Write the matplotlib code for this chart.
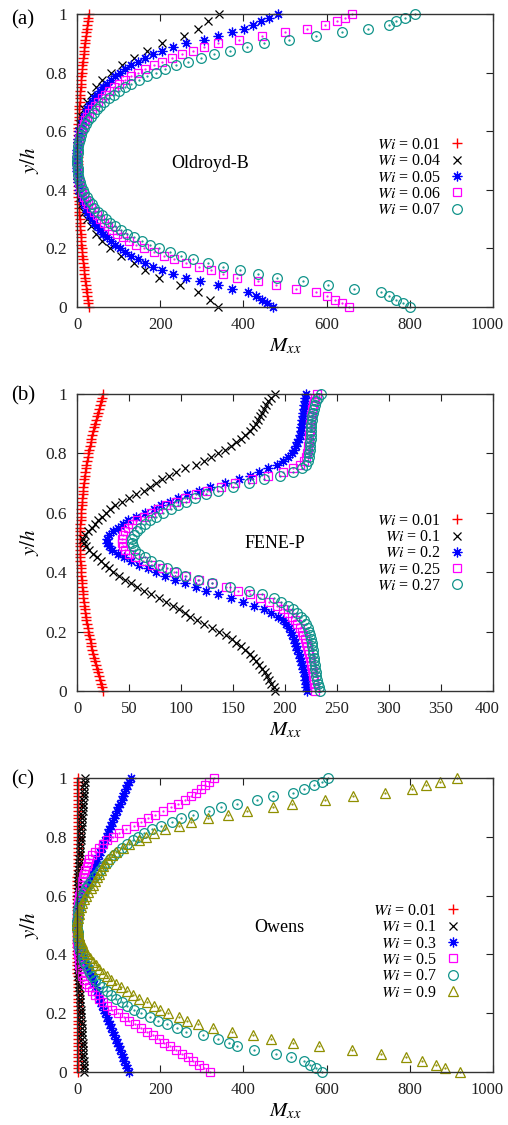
import matplotlib
matplotlib.use("Agg")
import matplotlib.pyplot as plt
from matplotlib.transforms import ScaledTranslation

plt.rcParams['font.family'] = ['Liberation Serif', 'DejaVu Serif']
plt.rcParams['mathtext.fontset'] = 'stix'

# wall-normal positions y/h
y81 = [0, 0.0125, 0.025, 0.0375, 0.05, 0.0625, 0.075, 0.0875, 0.1, 0.1125,
       0.125, 0.1375, 0.15, 0.1625, 0.175, 0.1875, 0.2, 0.2125, 0.225, 0.2375,
       0.25, 0.2625, 0.275, 0.2875, 0.3, 0.3125, 0.325, 0.3375, 0.35, 0.3625,
       0.375, 0.3875, 0.4, 0.4125, 0.425, 0.4375, 0.45, 0.4625, 0.475, 0.4875,
       0.5, 0.5125, 0.525, 0.5375, 0.55, 0.5625, 0.575, 0.5875, 0.6, 0.6125,
       0.625, 0.6375, 0.65, 0.6625, 0.675, 0.6875, 0.7, 0.7125, 0.725, 0.7375,
       0.75, 0.7625, 0.775, 0.7875, 0.8, 0.8125, 0.825, 0.8375, 0.85, 0.8625,
       0.875, 0.8875, 0.9, 0.9125, 0.925, 0.9375, 0.95, 0.9625, 0.975, 0.9875, 1.0]
y41 = [0, 0.025, 0.05, 0.075, 0.1, 0.125, 0.15, 0.175, 0.2, 0.225,
       0.25, 0.275, 0.3, 0.325, 0.35, 0.375, 0.4, 0.425, 0.45, 0.475,
       0.5, 0.525, 0.55, 0.575, 0.6, 0.625, 0.65, 0.675, 0.7, 0.725,
       0.75, 0.775, 0.8, 0.825, 0.85, 0.875, 0.9, 0.925, 0.95, 0.975, 1.0]

# (a) Oldroyd-B
a_labels = ["0.01", "0.04", "0.05", "0.06", "0.07"]
a_wi001 = [28, 26.7, 25.5, 24.2, 23.1, 21.9, 20.8, 19.7, 18.6, 17.6, 16.6, 15.7, 14.7, 13.8,
           13.0, 12.2, 11.4, 10.6, 9.9, 9.2, 8.5, 7.9, 7.3, 6.7, 6.2, 5.7, 5.2, 4.7, 4.3, 4.0,
           3.6, 3.3, 3.0, 2.8, 2.6, 2.4, 2.3, 2.1, 2.1, 2.0, 2.0,
           2.0, 2.1, 2.1, 2.3, 2.4, 2.6, 2.8, 3.0, 3.3, 3.6, 4.0, 4.3, 4.7, 5.2, 5.7, 6.2, 6.7,
           7.3, 7.9, 8.5, 9.2, 9.9, 10.6, 11.4, 12.2, 13.0, 13.8, 14.7, 15.7, 16.6, 17.6, 18.6,
           19.7, 20.8, 21.9, 23.1, 24.2, 25.5, 26.7, 28.5]
a_wi004 = [340, 320, 290, 247, 198, 164, 136, 105, 80, 60, 45, 33, 24, 17, 11, 7, 4, 2, 1, 1, 1,
           1, 1, 2, 4, 7, 11, 17, 24, 34, 46, 61, 82, 107, 138, 168, 205, 258, 290, 316, 342]
a_wi005 = [470, 457, 445, 431, 412, 372, 340, 296, 262, 230, 205, 183, 163, 146, 130, 116, 103,
           92, 81, 72, 63, 55, 48, 41, 35, 30, 25, 21, 17, 14, 11, 8, 6, 5, 3, 2, 2, 1, 1, 1, 1,
           1, 1, 1, 2, 2, 3, 5, 6, 8, 11, 14, 17, 21, 25, 30, 35, 41, 48, 55, 63, 72, 81, 92,
           103, 116, 130, 146, 163, 183, 205, 230, 262, 305, 340, 372, 402, 422, 442, 462, 482]
a_wi006 = [655, 637, 620, 601, 575, 527, 478, 435, 385, 350, 322, 294, 262, 234, 208, 184, 162,
           143, 126, 111, 97, 85, 74, 64, 55, 47, 40, 33, 27, 22, 17, 13, 10, 7, 5, 4, 3, 2, 1, 1, 1,
           1, 1, 2, 3, 4, 5, 7, 9, 12, 16, 20, 25, 30, 36, 43, 50, 59, 68, 78, 89, 101, 115, 130,
           146, 164, 184, 205, 228, 252, 278, 305, 340, 390, 444, 500, 552, 597, 625, 645, 662]
a_wi007 = [800, 784, 767, 749, 730, 665, 604, 543, 480, 435, 393, 352, 314, 280, 250, 223, 198,
           176, 156, 138, 121, 106, 92, 80, 69, 59, 50, 42, 35, 29, 23, 18, 14, 10, 7, 5, 3, 2, 2, 1, 1,
           1, 2, 2, 3, 5, 7, 10, 13, 17, 22, 27, 33, 40, 47, 56, 65, 76, 88, 101, 115, 131, 149,
           168, 189, 212, 238, 266, 297, 330, 368, 408, 450, 510, 575, 638, 700, 750, 768, 788, 812]

# (b) FENE-P
b_labels = ["0.01", "0.1", "0.2", "0.25", "0.27"]
b_wi001 = [25, 23.9, 22.9, 21.8, 20.8, 19.8, 18.9, 18.0, 17.1, 16.2, 15.4, 14.6, 13.8, 13.0,
           12.3, 11.6, 10.9, 10.3, 9.7, 9.1, 8.5, 8.0, 7.5, 7.0, 6.5, 6.1, 5.7, 5.3, 5.0, 4.7,
           4.4, 4.1, 3.9, 3.7, 3.5, 3.3, 3.2, 3.1, 3.1, 3.0, 3.0,
           3.0, 3.1, 3.1, 3.2, 3.3, 3.5, 3.7, 3.9, 4.1, 4.4, 4.7, 5.0, 5.3, 5.7, 6.1, 6.5, 7.0,
           7.5, 8.0, 8.5, 9.1, 9.7, 10.3, 10.9, 11.6, 12.3, 13.0, 13.8, 14.6, 15.4, 16.2, 17.1,
           18.0, 18.9, 19.8, 20.8, 21.8, 22.9, 23.9, 25.0]
b_wi01 = [190, 189, 187, 185, 183, 181, 178, 175, 172, 169, 166, 162, 158, 153, 149, 143, 137,
          130, 122, 115, 109, 104, 98, 92, 86, 79, 71, 64, 58, 52, 46, 40, 35, 31, 27, 23, 19, 15,
          12, 9, 7,
          6, 8, 11, 14, 17, 20, 24, 28, 32, 37, 43, 50, 57, 64, 70, 76, 82, 88, 95, 104, 114, 122,
          129, 136, 142, 148, 153, 158, 162, 166, 169, 172, 174, 176, 178, 180, 182, 184, 187, 190]
b_wi02 = [221, 220, 220, 219, 219, 218, 217, 216, 215, 214, 213, 212, 211, 210, 209, 207, 206,
          204, 201, 198, 193, 187, 180, 170, 160, 148, 136, 124, 114, 104, 94, 85, 76, 68, 60, 52,
          45, 39, 34, 31, 29,
          29, 31, 35, 39, 44, 49, 57, 65, 74, 81, 89, 97, 106, 117, 128, 142, 156, 166, 175, 184,
          192, 198, 203, 207, 209, 211, 212, 213, 214, 215, 215, 216, 216, 217, 217, 218, 218,
          219, 219, 220]
b_wi025 = [229, 229, 228, 228, 227, 227, 226, 225, 225, 224, 223, 222, 221, 220, 219, 217, 216,
           214, 212, 210, 207, 203, 198, 192, 185, 176, 166, 155, 143, 130, 117, 105, 93, 82, 72,
           63, 56, 50, 46, 44, 43,
           43, 44, 46, 49, 53, 58, 64, 71, 78, 86, 95, 104, 114, 125, 138, 152, 168, 184, 198, 208,
           214, 218, 220, 221, 222, 222, 223, 223, 223, 224, 224, 224, 225, 225, 226, 226, 227,
           228, 229, 231]
b_wi027 = [234, 233, 232, 231, 230, 230, 229, 229, 228, 228, 227, 227, 226, 226, 225, 224, 223,
           222, 220, 218, 215, 212, 208, 203, 196, 189, 178, 165, 147, 130, 116, 104, 95, 87, 79,
           71, 65, 60, 56, 54, 53,
           53, 55, 58, 61, 65, 70, 76, 83, 90, 97, 105, 113, 124, 136, 150, 165, 180, 195, 208, 216,
           220, 222, 223, 223, 224, 224, 224, 225, 225, 225, 225, 225, 226, 226, 227, 228, 229,
           230, 232, 235]

# (c) Owens
c_labels = ["0.01", "0.1", "0.3", "0.5", "0.7", "0.9"]
c_wi001 = [3.0, 2.9, 2.8, 2.7, 2.6, 2.6, 2.5, 2.4, 2.3, 2.3, 2.2, 2.1, 2.0, 2.0, 1.9, 1.8, 1.8,
           1.7, 1.7, 1.6, 1.5, 1.5, 1.4, 1.4, 1.3, 1.3, 1.3, 1.2, 1.2, 1.2, 1.1, 1.1, 1.1, 1.1,
           1.0, 1.0, 1.0, 1.0, 1.0, 1.0, 1.0,
           1.0, 1.0, 1.0, 1.0, 1.0, 1.0, 1.1, 1.1, 1.1, 1.1, 1.2, 1.2, 1.2, 1.3, 1.3, 1.3, 1.4,
           1.4, 1.5, 1.5, 1.6, 1.7, 1.7, 1.8, 1.8, 1.9, 2.0, 2.0, 2.1, 2.2, 2.3, 2.3, 2.4, 2.5,
           2.6, 2.6, 2.7, 2.8, 2.9, 3.0]
c_wi01 = [17, 16.6, 16.2, 15.8, 15.4, 15, 14.5, 14, 13.5, 13, 12.5, 12, 11.5, 11, 10.5, 10, 9.4,
          8.8, 8.2, 7.6, 7, 6.4, 5.8, 5.2, 4.6, 4.0, 3.5, 3.0, 2.6, 2.2, 1.9, 1.6, 1.4, 1.2, 1.1,
          1, 1, 1, 1, 1, 1,
          1, 1, 1, 1, 1, 1.1, 1.2, 1.4, 1.6, 1.9, 2.2, 2.6, 3.0, 3.5, 4.0, 4.6, 5.2, 5.8, 6.4, 7,
          7.6, 8.2, 8.8, 9.4, 10, 10.6, 11.2, 11.8, 12.4, 13, 13.6, 14.2, 14.8, 15.4, 16, 16.6,
          17.2, 17.8, 18.4, 19]
c_wi03 = [124, 121, 117, 114, 110, 107, 103, 100, 96, 93, 89, 86, 82, 79, 75, 72, 68, 65, 61, 58,
          54, 51, 47, 44, 41, 37, 34, 30, 27, 24, 20, 17, 14, 11, 8, 6, 4, 3, 2, 1, 1,
          1, 2, 3, 4, 6, 8, 11, 14, 17, 21, 24, 28, 31, 35, 38, 42, 45, 49, 53, 56, 60, 63, 67,
          71, 74, 78, 81, 85, 89, 92, 96, 99, 103, 107, 110, 114, 117, 121, 125, 129]
c_wi05 = [320, 306, 293, 280, 266, 252, 238, 224, 210, 196, 182, 168, 154, 140, 126, 112, 98, 85,
          73, 62, 52, 43, 35, 28, 22, 17, 13, 10, 8, 6, 5, 4, 3, 2, 2, 1, 1, 1, 1, 1, 1,
          1, 1, 1, 2, 2, 3, 4, 5, 7, 9, 11, 13, 15, 17, 20, 23, 26, 30, 36, 44, 52, 62, 73, 86,
          101, 117, 136, 153, 170, 188, 206, 226, 243, 259, 273, 286, 297, 308, 318, 330]
c_wi07 = [590, 575, 560, 545, 515, 478, 425, 385, 365, 340, 302, 262, 240, 216, 195, 175, 154,
          137, 121, 107, 94, 82, 71, 61, 52, 44, 37, 31, 26, 21, 17, 14, 11, 8, 6, 4, 3, 2, 2, 1, 1,
          1, 2, 2, 3, 5, 7, 10, 13, 17, 22, 27, 33, 40, 48, 56, 63, 71, 79, 88, 98, 109, 121, 134,
          146, 160, 180, 203, 228, 250, 280, 318, 345, 384, 432, 470, 520, 545, 570, 590, 604]
c_wi09 = [920, 885, 862, 830, 790, 730, 660, 582, 520, 466, 422, 372, 328, 290, 264, 244, 218,
          200, 184, 168, 150, 135, 120, 106, 94, 82, 72, 62, 53, 45, 38, 31, 25, 20, 15, 11, 8, 5,
          3, 2, 1,
          1, 2, 4, 6, 9, 13, 17, 22, 27, 33, 39, 43, 47, 52, 57, 62, 68, 75, 83, 94, 110, 124, 148,
          166, 186, 212, 246, 274, 314, 364, 408, 470, 516, 597, 664, 740, 805, 838, 872, 913]

STYLES = [
    dict(marker='+', color='#ff0000', ms=6.5, mew=1.0),
    dict(marker='x', color='#000000', ms=5.5, mew=0.9),
    dict(marker=(8, 2, 0), color='#0000ff', ms=7, mew=0.9),
    dict(marker='s', color='#ff00ff', ms=6, mew=0.9, mfc='none', dot=True),
    dict(marker='o', color='#11948b', ms=7, mew=0.9, mfc='none', dot=True),
    dict(marker='^', color='#8f8f00', ms=7, mew=0.9, mfc='none', dot=True),
]

W, H = 508.0, 1125.0


def make_axes(fig, top, bottom):
    return fig.add_axes([77 / W, 1 - bottom / H, 416 / W, (bottom - top) / H])


def draw_panel(ax, series, labels, xmax, xstep, name, name_xy, legend_anchor):
    for i, (x, y) in enumerate(series):
        st = STYLES[i]
        ax.plot(x, y, ls='none', marker=st['marker'], color=st['color'], ms=st['ms'],
                mew=st['mew'], mfc=st.get('mfc', st['color']), clip_on=False,
                label=r'$Wi$ = ' + labels[i])
        if st.get('dot'):
            # gnuplot leaves a small dot in the middle of open points
            ax.plot(x, y, ls='none', marker='.', color=st['color'], ms=1.2, clip_on=False)
    ax.set_xlim(0, xmax)
    ax.set_ylim(0, 1)
    ax.set_xticks(range(0, xmax + 1, xstep))
    ax.set_yticks([0, 0.2, 0.4, 0.6, 0.8, 1.0])
    ax.set_yticklabels(['0', '0.2', '0.4', '0.6', '0.8', '1'])
    ax.tick_params(direction='in', top=True, right=True, length=5, width=0.8,
                   labelsize=12.5, pad=7, colors='#222222')
    ax.tick_params(axis='x', labelsize=12)
    # keep the last x label inside the figure edge
    last = ax.get_xticklabels()[-1]
    last.set_transform(last.get_transform() + ScaledTranslation(-4 / 72, 0, fig.dpi_scale_trans))
    for sp in ax.spines.values():
        sp.set_color('#333333')
        sp.set_linewidth(1.0)
    ax.set_xlabel(r'$M_{xx}$', fontsize=15, labelpad=3)
    ax.set_ylabel(r'$y/h$', fontsize=15)
    ax.yaxis.set_label_coords(-0.087, 0.5)
    ax.text(name_xy[0], name_xy[1], name, ha='center', va='center', fontsize=13)
    ax.legend(loc='upper right', bbox_to_anchor=legend_anchor, frameon=False,
              markerfirst=False, handlelength=1.0, handletextpad=0.5,
              labelspacing=0.02, fontsize=11.5, borderaxespad=0, borderpad=0)


fig = plt.figure(figsize=(W / 100, H / 100), dpi=100)

ax_a = make_axes(fig, 14, 307)
draw_panel(ax_a, [(a_wi001, y81), (a_wi004, y41), (a_wi005, y81), (a_wi006, y81), (a_wi007, y81)],
           a_labels, 1000, 200, 'Oldroyd-B', (320, 0.49), (0.933, 0.58))

ax_b = make_axes(fig, 394, 691)
draw_panel(ax_b, [(b_wi001, y81), (b_wi01, y81), (b_wi02, y81), (b_wi025, y81), (b_wi027, y81)],
           b_labels, 400, 50, 'FENE-P', (190, 0.498), (0.933, 0.60))

ax_c = make_axes(fig, 778, 1072)
draw_panel(ax_c, [(c_wi001, y81), (c_wi01, y81), (c_wi03, y81), (c_wi05, y81), (c_wi07, y81),
                  (c_wi09, y81)],
           c_labels, 1000, 200, 'Owens', (486, 0.49), (0.923, 0.575))

for lab, ytop in [('(a)', 20), ('(b)', 396), ('(c)', 780)]:
    fig.text(23 / W, 1 - ytop / H, lab, ha='center', va='center', fontsize=15)

fig.savefig('out.png', dpi=100)
